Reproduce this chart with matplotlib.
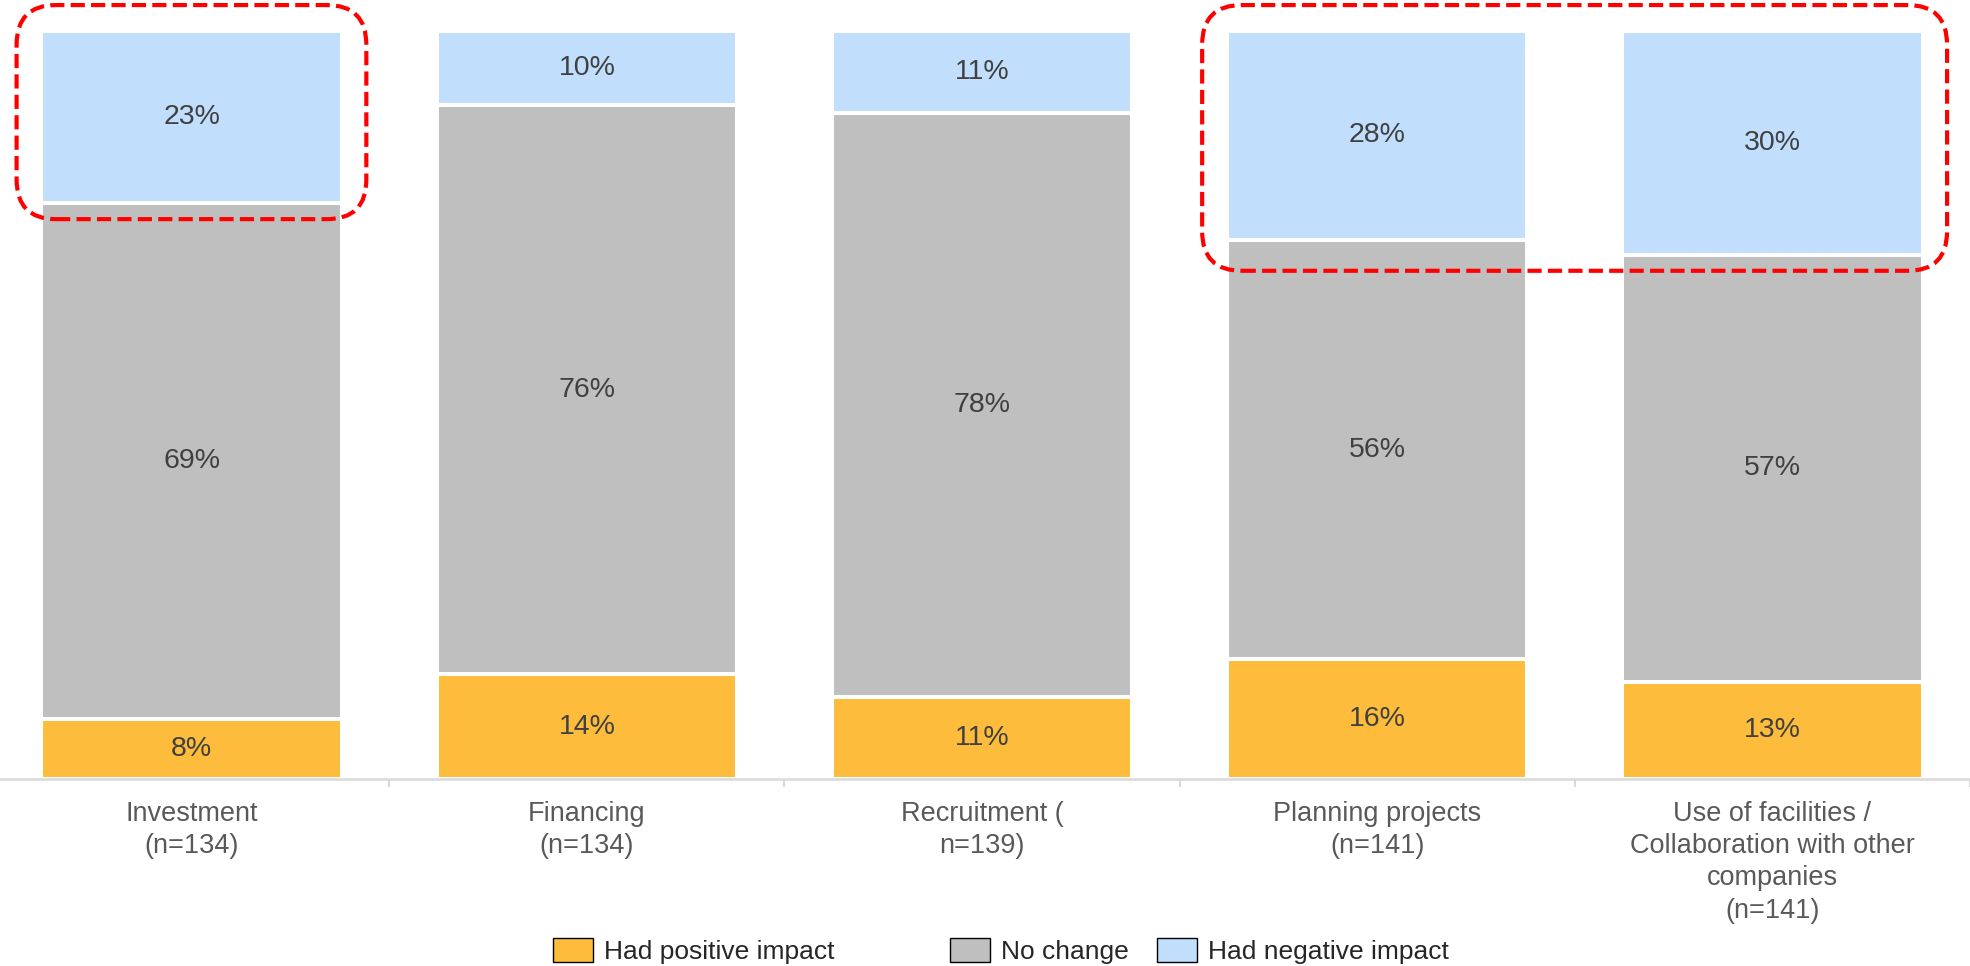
import numpy as np
import matplotlib
matplotlib.use("Agg")
import matplotlib.pyplot as plt
from matplotlib.patches import Patch, FancyBboxPatch

plt.rcParams['font.family'] = ['Liberation Sans', 'DejaVu Sans']

# data (percent of respondents)
categories = ["Investment\n(n=134)", "Financing\n(n=134)", "Recruitment (\nn=139)",
              "Planning projects\n(n=141)",
              "Use of facilities /\nCollaboration with other\ncompanies\n(n=141)"]
positive = [8, 14, 11, 16, 13]
no_change = [69, 76, 78, 56, 57]
negative = [23, 10, 11, 28, 30]
series_names = ["Had positive impact", "No change", "Had negative impact"]
colors = ["#FDBC3C", "#BFBFBF", "#C1DFFC"]

# bars that get a red dashed highlight (first idx, last idx, lower edge in %)
highlights = [(0, 0, 74.8), (3, 4, 67.9)]

fig = plt.figure(figsize=(19.70, 9.66), dpi=100)
ax = fig.add_axes([0.0, 0.1936, 1.0, 0.7748])

x = np.arange(len(categories))
w = 0.76
bottom = np.zeros(len(categories))
for vals, col in zip([positive, no_change, negative], colors):
    vals = np.array(vals, dtype=float)
    ax.bar(x, vals, w, bottom=bottom, color=col, edgecolor="white", linewidth=2.9, zorder=2)
    for xi, b, v in zip(x, bottom, vals):
        ax.text(xi, b + v / 2, "%d%%" % v, ha="center", va="center",
                fontsize=20.5, color="#404040", zorder=3)
    bottom += vals

ax.set_xlim(-0.485, 4.5)
ax.set_ylim(0, 100)
for s in ["top", "right", "left"]:
    ax.spines[s].set_visible(False)
ax.spines["bottom"].set_color("#D9D9D9")
ax.spines["bottom"].set_linewidth(1.8)
ax.spines["bottom"].set_zorder(4)
ax.set_yticks([])
ax.set_xticks(x)
ax.set_xticklabels(categories, fontsize=19.5, color="#595959", linespacing=1.32)
ax.tick_params(axis="x", which="major", length=0, pad=15.5)
ax.set_xticks(np.arange(0.5, len(categories), 1.0), minor=True)
ax.tick_params(axis="x", which="minor", length=6, width=1.5, color="#D9D9D9")

# rounded dashed boxes, corners kept round in pixels
px_x = 1970 * 1.0 / (4.5 + 0.485)
px_y = 966 * 0.7748 / 100
aspect = px_x / px_y
for i0, i1, ylow in highlights:
    x0 = i0 - 0.443
    x1 = i1 + 0.442
    ytop = 103.4
    box = FancyBboxPatch((x0, ylow), x1 - x0, ytop - ylow,
                         boxstyle="round,pad=0,rounding_size=0.1",
                         mutation_aspect=aspect, fill=False, edgecolor="#FF0000",
                         linewidth=3.0, linestyle=(0, (3.4, 1.5)), clip_on=False, zorder=5)
    ax.add_patch(box)

# legend, three separate entries like the original layout
leg_x = [0.2807, 0.4822, 0.5873]
for name, col, lx in zip(series_names, colors, leg_x):
    h = Patch(facecolor=col, edgecolor="black", linewidth=1.0)
    fig.legend(handles=[h], labels=[name], loc="center left", bbox_to_anchor=(lx, 0.0155),
               frameon=False, fontsize=19, handlelength=1.5, handleheight=1.05,
               handletextpad=0.45, borderpad=0, borderaxespad=0, labelcolor="#262626")

fig.savefig("out.png", dpi=100)
